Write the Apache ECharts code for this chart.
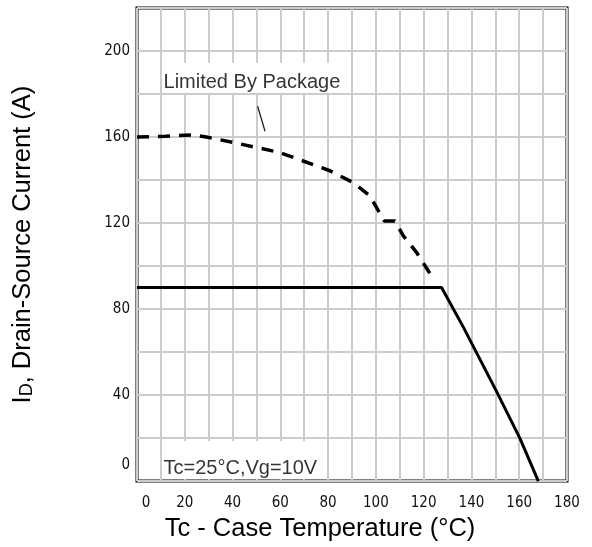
<!DOCTYPE html>
<html>
<head>
<meta charset="utf-8">
<script src="https://cdn.jsdelivr.net/npm/echarts@6/dist/echarts.min.js"></script>
<style>
  html, body { margin: 0; padding: 0; background: #fff; }
  #chart { width: 592px; height: 547px; }
</style>
</head>
<body>
<div id="chart"></div>
<script>
// package limit (dashed) curve
const pkgTemp = [0, 12, 23, 29, 41, 59, 63, 81, 90.5, 97.5, 103.5, 108, 111.5, 117, 123.5];
const pkgCurrent = [160, 160.4, 161, 160, 157.3, 153, 151.5, 144.2, 138.8, 132.6, 121, 121, 114, 106.4, 95];

// silicon limit (solid) curve
const limTemp = [0, 127.5, 136.6, 150.6, 160.3, 168];
const limCurrent = [90, 90, 71.6, 41.5, 19.9, 0];

// little leader line under the label
const leaderTemp = [50.5, 53.6];
const leaderCurrent = [174.3, 162.7];

const xTicks = [0, 20, 40, 60, 80, 100, 120, 140, 160, 180];
const yTicks = [0, 40, 80, 120, 160, 200];

const zip = (a, b) => a.map((v, i) => [v, b[i]]);

let mcharts = echarts.init(document.getElementById("chart"));

let tickFont = {
  fontFamily: "'Liberation Sans Narrow', 'DejaVu Sans Condensed', sans-serif",
  fontSize: 15,
  color: "#111",
};
let textFont = "'Liberation Sans', Arial, sans-serif";

let option = {
  animation: false,
  backgroundColor: "#fff",
  grid: {
    left: 137,
    right: 25,
    top: 8,
    bottom: 64,
    show: true,
    borderColor: "#000",
    borderWidth: 3,
  },
  xAxis: {
    type: "value",
    min: 0,
    max: 180,
    interval: 10,
    axisLine: { show: false },
    axisTick: { show: false },
    splitLine: { lineStyle: { color: "#cccccc", width: 2 } },
    axisLabel: {
      ...tickFont,
      margin: 15,
      formatter: (v) => {
        if (!xTicks.includes(v)) return "";
        return v === 0 ? "{z|0}" : String(v);
      },
      rich: { z: { ...tickFont, padding: [0, 0, 0, 18] } },
    },
    name: "Tc - Case Temperature (°C)",
    nameLocation: "middle",
    nameGap: 28,
    nameTextStyle: {
      fontFamily: textFont,
      fontSize: 25.5,
      color: "#000",
      padding: [0, 64, 0, 0],
    },
  },
  yAxis: {
    type: "value",
    min: 0,
    max: 220,
    interval: 20,
    axisLine: { show: false },
    axisTick: { show: false },
    splitLine: { lineStyle: { color: "#cccccc", width: 2 } },
    axisLabel: {
      ...tickFont,
      margin: 7,
      formatter: (v) => {
        if (!yTicks.includes(v)) return "";
        return v === 0 ? "{z|0}" : String(v);
      },
      rich: { z: { ...tickFont, padding: [0, 0, 32, 0] } },
    },
    name: "{m|I}{s|D}{m|, Drain-Source Current (A)}",
    nameLocation: "middle",
    nameGap: 101,
    nameTextStyle: {
      rich: {
        m: { fontFamily: textFont, fontSize: 25.5, color: "#000" },
        s: { fontFamily: textFont, fontSize: 18, color: "#000", verticalAlign: "bottom", padding: [8, 0, 0, 0] },
      },
    },
  },
  series: [
    {
      name: "package",
      type: "line",
      data: zip(pkgTemp, pkgCurrent),
      showSymbol: false,
      lineStyle: { color: "#000", width: 3.5, type: [12, 9] },
      z: 3,
    },
    {
      name: "limit",
      type: "line",
      data: zip(limTemp, limCurrent),
      showSymbol: false,
      lineStyle: { color: "#000", width: 3 },
      z: 3,
    },
    {
      name: "leader",
      type: "line",
      data: zip(leaderTemp, leaderCurrent),
      showSymbol: false,
      lineStyle: { color: "#222", width: 1.3 },
      z: 3,
    },
    {
      // annotation texts, with white patches that hide the grid behind them
      type: "scatter",
      symbolSize: 0,
      data: [
        { value: [11.1, 185.5], label: { formatter: "Limited By Package" } },
        { value: [11.1, 6.0], label: { formatter: "Tc=25°C,Vg=10V" } },
      ],
      label: {
        show: true,
        position: "right",
        distance: 0,
        fontFamily: textFont,
        fontSize: 20,
        color: "#000",
      },
      markArea: {
        silent: true,
        itemStyle: { color: "#fff", borderWidth: 0 },
        data: [
          [{ coord: [11.3, 194.5] }, { coord: [87.1, 180.6] }],
          [{ coord: [11.3, 18.5] }, { coord: [79, 1] }],
        ],
      },
      z: 4,
    },
  ],
};

mcharts.setOption(option);
</script>
</body>
</html>
